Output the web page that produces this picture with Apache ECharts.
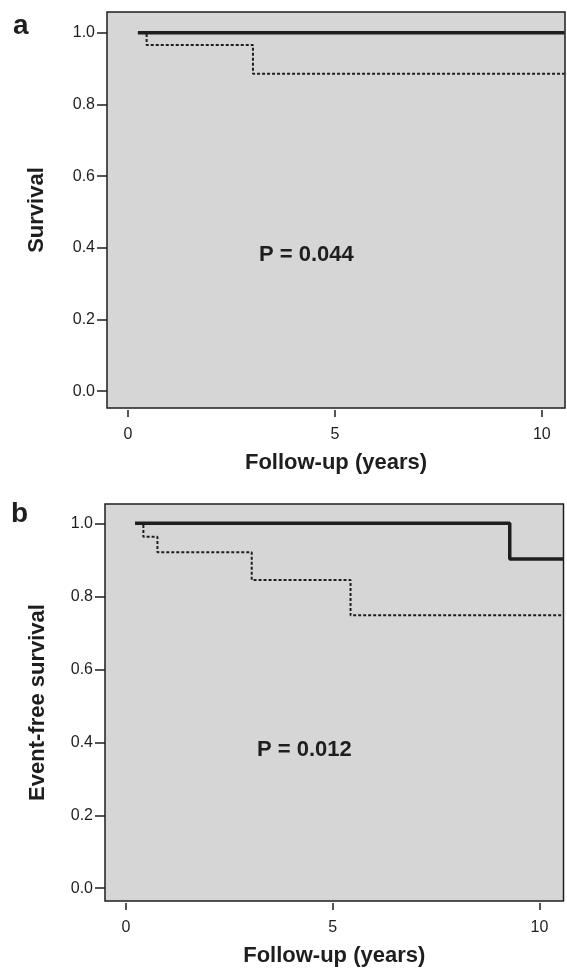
<!DOCTYPE html>
<html>
<head>
<meta charset="utf-8">
<script src="https://cdn.jsdelivr.net/npm/echarts@6/dist/echarts.min.js"></script>
<style>
  html, body { margin: 0; padding: 0; background: #fff; }
  #main { width: 567px; height: 968px; }
</style>
</head>
<body>
<div id="main"></div>
<script>
// Kaplan-Meier step points: [years, survival]
const survivalSolid = [[0.24, 1.0], [10.55, 1.0]];
const survivalDashed = [[0.24, 1.0], [0.45, 0.966], [3.02, 0.886], [10.55, 0.886]];
const eventFreeSolid = [[0.22, 1.0], [9.28, 0.902], [10.57, 0.902]];
const eventFreeDashed = [[0.22, 1.0], [0.42, 0.963], [0.76, 0.921], [3.04, 0.845], [5.43, 0.748], [10.57, 0.748]];

const xTicks = [0, 5, 10];
const yTicks = [0, 0.2, 0.4, 0.6, 0.8, 1.0];
const pValues = ["P = 0.044", "P = 0.012"];
const yTitles = ["Survival", "Event-free survival"];
const xTitle = "Follow-up (years)";

const font = "'Liberation Sans', Arial, sans-serif";
const ink = "#1e1e1e";

const myChart = echarts.init(document.getElementById("main"), null, { renderer: "canvas" });

function grid(top, left, right, height) {
  return {
    top: top, left: left, right: right, height: height,
    show: true,
    backgroundColor: "#d6d6d6",
    borderColor: ink,
    borderWidth: 1.5
  };
}

function xAxis(idx, min, max) {
  return {
    type: "value", gridIndex: idx, min: min, max: max,
    offset: 2,
    splitLine: { show: false },
    axisLine: { show: false, onZero: false },
    axisTick: { show: true, length: 7, customValues: xTicks, lineStyle: { color: ink, width: 1.5 } },
    axisLabel: { customValues: xTicks, color: ink, fontFamily: font, fontSize: 16, margin: 17 },
    name: xTitle, nameLocation: "middle", nameGap: 42,
    nameTextStyle: { color: ink, fontFamily: font, fontSize: 22, fontWeight: "bold" }
  };
}

function yAxis(idx, min, max, title, gap) {
  return {
    type: "value", gridIndex: idx, min: min, max: max,
    splitLine: { show: false },
    axisLine: { show: false, onZero: false },
    axisTick: { show: true, length: 10, customValues: yTicks, lineStyle: { color: ink, width: 1.5 } },
    axisLabel: {
      customValues: yTicks, color: ink, fontFamily: font, fontSize: 16, margin: 12,
      formatter: (v) => v.toFixed(1)
    },
    name: title, nameLocation: "middle", nameGap: gap, nameRotate: 90,
    nameTextStyle: { color: ink, fontFamily: font, fontSize: 22, fontWeight: "bold" }
  };
}

function km(data, idx, dashed) {
  return {
    type: "line", xAxisIndex: idx, yAxisIndex: idx,
    data: data, step: "end", symbol: "none", silent: true,
    lineStyle: dashed
      ? { color: ink, width: 2, type: [3, 2] }
      : { color: ink, width: 3.5 },
    z: dashed ? 2 : 3
  };
}

function label(text, x, y, size) {
  return {
    type: "text", left: x, top: y,
    style: { text: text, fill: ink, font: "bold " + size + "px " + font }
  };
}

const option = {
  animation: false,
  backgroundColor: "#fff",
  grid: [grid(12, 107, 2, 396), grid(504, 105, 3.5, 399)],
  xAxis: [xAxis(0, -0.507, 10.56), xAxis(1, -0.508, 10.58)],
  yAxis: [yAxis(0, -0.047, 1.058, yTitles[0], 59), yAxis(1, -0.035, 1.053, yTitles[1], 56)],
  series: [
    km(survivalDashed, 0, true),
    km(survivalSolid, 0, false),
    km(eventFreeDashed, 1, true),
    km(eventFreeSolid, 1, false)
  ],
  graphic: [
    label("a", 13, 12, 28),
    label("b", 11, 500, 28),
    label(pValues[0], 259, 244, 22),
    label(pValues[1], 257, 739, 22)
  ]
};

myChart.setOption(option);
</script>
</body>
</html>
